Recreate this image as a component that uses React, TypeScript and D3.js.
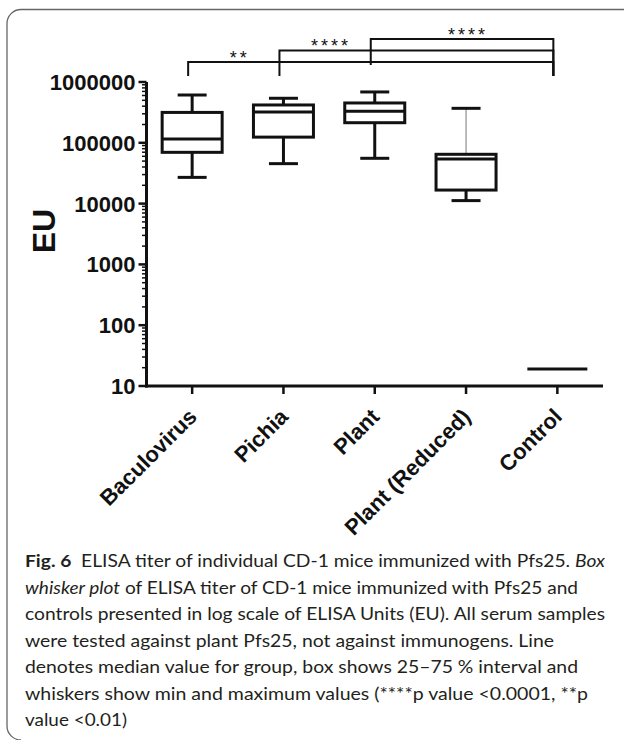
import React from 'react';
import * as d3 from 'd3';

const categories = ['Baculovirus', 'Pichia', 'Plant', 'Plant (Reduced)', 'Control'];
const minValues = [27000, 45400, 55600, 11200, 19];
const q1Values = [69700, 124000, 214000, 16700, 19];
const medianValues = [115500, 321000, 330000, 54200, 19];
const q3Values = [316000, 419000, 452000, 64700, 19];
const maxValues = [611000, 540000, 686000, 369000, 19];
const yTicks = [10, 100, 1000, 10000, 100000, 1000000];
const yTickLabels = ['10', '100', '1000', '10000', '100000', '1000000'];

const sigFrom = ['Baculovirus', 'Pichia', 'Plant'];
const sigTo = ['Control', 'Control', 'Control'];
const sigLabelA = ['Baculovirus', 'Pichia', 'Plant'];
const sigLabelB = ['Pichia', 'Plant', 'Control'];
const sigLabels = ['**', '****', '****'];

const yLabel = 'EU';

const captionLines = [
  [{ t: 'Fig. 6', w: 'bold' }, { t: '\u00a0\u00a0ELISA titer of individual CD-1 mice immunized with Pfs25. ' }, { t: 'Box', s: 'italic' }],
  [{ t: 'whisker plot', s: 'italic' }, { t: ' of ELISA titer of CD-1 mice immunized with Pfs25 and' }],
  [{ t: 'controls presented in log scale of ELISA Units (EU). All serum samples' }],
  [{ t: 'were tested against plant Pfs25, not against immunogens. Line' }],
  [{ t: 'denotes median value for group, box shows 25\u201375 % interval and' }],
  [{ t: 'whiskers show min and maximum values (****p value <0.0001, **p' }],
  [{ t: 'value <0.01)' }],
];
const captionWidths = [580, 553, 580, 529, 553, 563, 102];

export default function App() {
  const W = 624, H = 740;
  const x = d3.scalePoint<string>().domain(categories).range([146.5, 603]).padding(0.5);
  const y = d3.scaleLog().domain([10, 1000000]).range([386, 82]);
  const axisX = 146.5;
  const boxW = 60, capW = 29;
  const font = "'Liberation Sans', Arial, Helvetica, sans-serif";

  const minor: number[] = [];
  for (let d = 10; d < 1000000; d *= 10) {
    for (let k = 2; k <= 9; k++) minor.push(k * d);
  }

  const black = '#111';

  return (
    <svg width={W} height={H} style={{ position: 'absolute', left: 0, top: 0 }} xmlns="http://www.w3.org/2000/svg">
      <rect x={0} y={0} width={W} height={H} fill="#fff" />
      {/* frame */}
      <path d="M 624 9.5 H 21 A 14 14 0 0 0 7 23.5 V 726 A 14 14 0 0 0 21 740" fill="none" stroke="#666" strokeWidth={1.3} />

      {/* y axis */}
      <line x1={axisX} x2={axisX} y1={y(1000000)} y2={y(10) + 1.5} stroke={black} strokeWidth={3} />
      {yTicks.map((t, i) => (
        <g key={'yt' + i}>
          <line x1={axisX - 8} x2={axisX} y1={y(t)} y2={y(t)} stroke={black} strokeWidth={2.5} />
          <text x={axisX - 11} y={y(t)} dy="0.36em" textAnchor="end" fontFamily={font} fontWeight="bold" fontSize={22} fill={black}>
            {yTickLabels[i]}
          </text>
        </g>
      ))}
      {minor.map((t, i) => (
        <line key={'mt' + i} x1={axisX - 4.5} x2={axisX} y1={y(t)} y2={y(t)} stroke={black} strokeWidth={1.5} />
      ))}

      {/* x axis */}
      <line x1={axisX - 1.5} x2={603} y1={386} y2={386} stroke={black} strokeWidth={3} />
      {categories.map((c) => (
        <line key={'xt' + c} x1={x(c)} x2={x(c)} y1={386} y2={394} stroke={black} strokeWidth={2.5} />
      ))}
      {categories.map((c) => (
        <text key={'xl' + c} transform={`translate(${(x(c) as number) + 6},418) rotate(-45)`} textAnchor="end" fontFamily={font} fontWeight="bold" fontSize={22} fill={black}>
          {c}
        </text>
      ))}

      {/* y label */}
      <text transform="translate(55,231) rotate(-90)" textAnchor="middle" fontFamily={font} fontWeight="bold" fontSize={32} fill={black}>
        {yLabel}
      </text>

      {/* boxes */}
      {categories.map((c, i) => {
        const cx = x(c) as number;
        const flat = q1Values[i] === q3Values[i];
        if (flat) {
          return <line key={'b' + c} x1={cx - boxW / 2} x2={cx + boxW / 2} y1={y(medianValues[i])} y2={y(medianValues[i])} stroke={black} strokeWidth={3} />;
        }
        const thinUpper = c === 'Plant (Reduced)';
        return (
          <g key={'b' + c}>
            <line x1={cx} x2={cx} y1={y(maxValues[i])} y2={y(q3Values[i])} stroke={thinUpper ? '#777' : black} strokeWidth={thinUpper ? 1 : 3} />
            <line x1={cx} x2={cx} y1={y(q1Values[i])} y2={y(minValues[i])} stroke={black} strokeWidth={3} />
            <line x1={cx - capW / 2} x2={cx + capW / 2} y1={y(maxValues[i])} y2={y(maxValues[i])} stroke={black} strokeWidth={3} />
            <line x1={cx - capW / 2} x2={cx + capW / 2} y1={y(minValues[i])} y2={y(minValues[i])} stroke={black} strokeWidth={3} />
            <rect x={cx - boxW / 2} y={y(q3Values[i])} width={boxW} height={y(q1Values[i]) - y(q3Values[i])} fill="#fff" stroke={black} strokeWidth={3} />
            <line x1={cx - boxW / 2} x2={cx + boxW / 2} y1={y(medianValues[i])} y2={y(medianValues[i])} stroke={black} strokeWidth={3} />
          </g>
        );
      })}

      {/* significance brackets */}
      {sigFrom.map((f, i) => {
        const x1 = (x(f) as number) - 4;
        const x2 = (x(sigTo[i]) as number) - 4;
        const by = 62 - i * 11.5;
        const leftBottom = i === 2 ? 65 : 76;
        const lx = ((x(sigLabelA[i]) as number) + (x(sigLabelB[i]) as number)) / 2 + 2;
        return (
          <g key={'s' + i}>
            <path d={`M ${x1} ${leftBottom} V ${by} H ${x2} V 76`} fill="none" stroke={black} strokeWidth={2} />
            <text x={lx} y={by + 1.5} textAnchor="middle" fontFamily={font} fontSize={18} letterSpacing={3} fill={black}>
              {sigLabels[i]}
            </text>
          </g>
        );
      })}

      {/* caption */}
      {captionLines.map((line, i) => (
        <text key={'c' + i} x={25} y={567 + i * 26.5} fontFamily="Lato, 'Noto Sans', sans-serif" fontSize={17.5} fill="#231f20" textLength={captionWidths[i]} lengthAdjust="spacingAndGlyphs">
          {line.map((seg: any, j: number) => (
            <tspan key={j} fontWeight={seg.w || 'normal'} fontStyle={seg.s || 'normal'}>{seg.t}</tspan>
          ))}
        </text>
      ))}
    </svg>
  );
}
